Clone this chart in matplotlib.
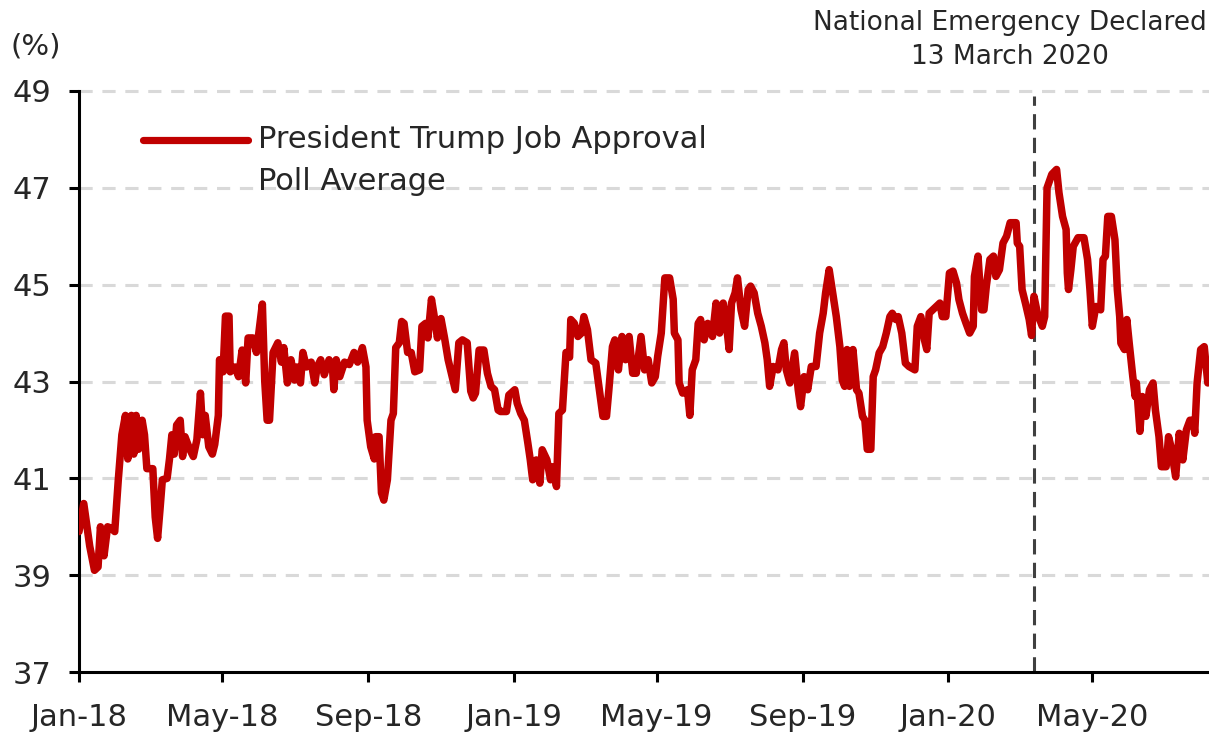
import matplotlib
matplotlib.use("Agg")
import matplotlib.pyplot as plt
import matplotlib.dates as mdates
from matplotlib.lines import Line2D
import pandas as pd

plt.rcParams['font.family'] = ['DejaVu Sans']
plt.rcParams['lines.scale_dashes'] = False

# Poll average, sampled as days since 1 Jan 2018
START = pd.Timestamp('2018-01-01')
day_offsets = [
    0, 4, 9, 13, 16, 18, 21, 24, 27, 30, 33, 36, 39, 41, 44, 46, 48, 50, 53, 55,
    57, 62, 64, 66, 68, 70, 74, 76, 78, 80, 82, 85, 87, 89, 93, 96, 99, 102, 104, 106,
    109, 112, 114, 117, 118, 121, 123, 126, 127, 131, 134, 137, 140, 142, 146, 149, 154, 156, 158, 160,
    163, 167, 170, 172, 175, 178, 181, 183, 186, 188, 191, 195, 198, 200, 203, 206, 210, 213, 214, 216,
    219, 223, 227, 231, 234, 238, 241, 242, 245, 248, 249, 252, 254, 256, 259, 262, 264, 266, 269, 271,
    273, 276, 279, 282, 286, 288, 291, 293, 296, 298, 301, 304, 307, 310, 314, 316, 319, 322, 326, 329,
    331, 333, 336, 340, 343, 346, 349, 352, 354, 359, 361, 366, 368, 371, 374, 377, 379, 381, 384, 387,
    389, 393, 396, 398, 401, 403, 406, 409, 412, 413, 416, 419, 422, 424, 427, 430, 434, 437, 440, 443,
    445, 448, 450, 453, 456, 459, 462, 465, 468, 472, 475, 478, 481, 484, 486, 489, 492, 496, 499, 500,
    503, 504, 507, 511, 513, 515, 518, 520, 522, 525, 528, 532, 535, 538, 541, 543, 546, 548, 551, 553,
    556, 559, 562, 564, 567, 570, 573, 576, 578, 580, 583, 587, 590, 592, 594, 597, 601, 604, 606, 609,
    612, 615, 619, 622, 625, 627, 630, 633, 636, 639, 641, 643, 645, 647, 650, 653, 655, 658, 660, 662,
    665, 667, 669, 672, 675, 678, 681, 683, 686, 688, 691, 694, 697, 702, 704, 707, 710, 712, 714, 717,
    720, 723, 725, 728, 731, 734, 737, 739, 742, 745, 748, 751, 752, 755, 758, 760, 762, 765, 768, 770,
    773, 776, 779, 782, 787, 788, 790, 792, 795, 798, 800, 802, 805, 809, 811, 813, 817, 821, 823, 826,
    829, 830, 831, 833, 835, 839, 844, 847, 849, 851, 854, 858, 860, 862, 864, 867, 870, 872, 874, 875,
    878, 880, 882, 885, 887, 888, 891, 893, 896, 899, 902, 904, 907, 909, 913, 915, 917, 921, 924, 927,
    930, 933, 936, 937, 939, 942, 945, 948,
]
approval = [
    39.90, 40.48, 39.60, 39.10, 39.17, 40.00, 39.40, 40.00, 39.97, 39.90, 40.97, 41.90, 42.30, 41.40, 42.30, 41.50, 42.30, 41.60, 42.20, 41.90,
    41.20, 41.20, 40.20, 39.76, 40.35, 40.97, 41.00, 41.40, 41.90, 41.50, 42.10, 42.20, 41.45, 41.86, 41.60, 41.45, 41.80, 42.76, 41.90, 42.30,
    41.65, 41.50, 41.70, 42.30, 43.45, 43.20, 44.35, 44.35, 43.20, 43.30, 43.10, 43.65, 42.97, 43.90, 43.90, 43.60, 44.60, 43.00, 42.20, 42.20,
    43.60, 43.80, 43.40, 43.70, 42.97, 43.45, 43.03, 43.30, 42.97, 43.60, 43.30, 43.40, 42.97, 43.30, 43.45, 43.14, 43.45, 43.24, 42.83, 43.45,
    43.10, 43.40, 43.35, 43.60, 43.40, 43.70, 43.30, 42.20, 41.65, 41.40, 41.86, 41.86, 40.70, 40.55, 40.97, 42.20, 42.34, 43.70, 43.80, 44.24,
    44.20, 43.60, 43.60, 43.20, 43.24, 44.14, 44.20, 43.90, 44.70, 44.40, 43.90, 44.30, 43.90, 43.45, 43.03, 42.83, 43.80, 43.86, 43.80, 42.80,
    42.66, 42.76, 43.65, 43.65, 43.17, 42.90, 42.83, 42.41, 42.38, 42.38, 42.72, 42.83, 42.55, 42.34, 42.20, 41.72, 41.38, 40.97, 41.38, 40.90,
    41.59, 41.38, 40.97, 41.24, 40.83, 42.34, 42.41, 43.60, 43.50, 44.28, 44.20, 43.93, 44.00, 44.34, 44.07, 43.45, 43.38, 42.83, 42.28, 42.28,
    42.83, 43.72, 43.86, 43.24, 43.93, 43.45, 43.93, 43.17, 43.17, 43.93, 43.24, 43.45, 42.97, 43.10, 43.52, 44.00, 45.14, 45.14, 44.70, 44.00,
    43.86, 42.97, 42.76, 42.83, 42.30, 43.24, 43.45, 44.20, 44.28, 43.86, 44.20, 43.93, 44.62, 44.00, 44.62, 44.34, 43.66, 44.62, 44.83, 45.14,
    44.48, 44.14, 44.90, 44.97, 44.83, 44.41, 44.14, 43.80, 43.45, 42.90, 43.31, 43.24, 43.66, 43.80, 43.24, 42.97, 43.59, 42.83, 42.48, 43.10,
    42.83, 43.31, 43.31, 44.00, 44.41, 44.83, 45.31, 44.83, 44.34, 43.72, 43.03, 42.90, 43.66, 42.90, 43.66, 42.83, 42.76, 42.28, 42.20, 41.60,
    41.60, 43.10, 43.24, 43.59, 43.72, 44.00, 44.34, 44.41, 44.28, 44.34, 44.00, 43.38, 43.31, 43.24, 44.14, 44.34, 43.86, 43.66, 44.41, 44.48,
    44.55, 44.62, 44.34, 44.34, 45.24, 45.28, 45.03, 44.69, 44.41, 44.20, 44.00, 44.14, 45.17, 45.59, 44.48, 44.48, 44.97, 45.52, 45.59, 45.17,
    45.31, 45.86, 46.00, 46.28, 46.28, 45.86, 45.79, 44.90, 44.60, 44.28, 43.95, 44.76, 44.40, 44.14, 44.34, 47.00, 47.28, 47.38, 46.90, 46.41,
    46.14, 45.24, 44.90, 45.31, 45.79, 45.97, 45.97, 45.52, 44.90, 44.14, 44.55, 44.48, 45.52, 45.59, 46.41, 46.41, 45.93, 44.90, 44.34, 43.79,
    43.66, 44.28, 43.79, 43.10, 42.69, 42.97, 41.97, 42.69, 42.28, 42.83, 42.97, 42.41, 41.86, 41.24, 41.24, 41.86, 41.66, 41.03, 41.93, 41.38,
    42.00, 42.20, 42.20, 41.93, 42.97, 43.66, 43.72, 42.97,
]
series_label = ['President Trump Job Approval', 'Poll Average']
emergency_date = pd.Timestamp('2020-03-13')
emergency_label = ['National Emergency Declared', '13 March 2020']
y_ticks = [37, 39, 41, 43, 45, 47, 49]

RED = '#C00000'
TEXT = '#262626'

dates = START + pd.to_timedelta(day_offsets, unit='D')

W, H = 1209, 732
fig = plt.figure(figsize=(W / 100, H / 100), dpi=100)
ax = fig.add_axes([79 / W, 60 / H, 1130 / W, 581 / H])

ax.set_ylim(37, 49)
ax.set_xlim(START, START + pd.Timedelta(days=949))

# dashed horizontal gridlines
for y in y_ticks[1:]:
    ax.axhline(y, color='#d9d9d9', lw=2.2, ls=(0, (9.5, 7)), zorder=0, clip_on=False)

# national emergency marker
ax.axvline(emergency_date, ymin=0, ymax=0.991, color='#404040', lw=2.2,
           ls=(0, (11, 6)), zorder=1)

ax.plot(dates, approval, color=RED, lw=5.4, solid_joinstyle='round',
        solid_capstyle='round', zorder=3)

for side in ('top', 'right'):
    ax.spines[side].set_visible(False)
for side in ('left', 'bottom'):
    ax.spines[side].set_linewidth(2.2)
    ax.spines[side].set_color('black')

ax.set_yticks(y_ticks)
ax.xaxis.set_major_locator(mdates.MonthLocator(bymonth=[1, 5, 9]))
ax.xaxis.set_major_formatter(mdates.DateFormatter('%b-%y'))
ax.tick_params(direction='out', length=7, width=2.2, labelsize=22,
               color='black', labelcolor=TEXT)
ax.tick_params(axis='x', pad=15)
ax.tick_params(axis='y', pad=13)

# legend drawn by hand so the key sits on the first text line
ax.add_line(Line2D([0.0566, 0.1496], [0.9157, 0.9157], transform=ax.transAxes,
                   color=RED, lw=5.2, solid_capstyle='round', clip_on=False))
ax.text(0.1584, 0.9157, series_label[0], transform=ax.transAxes, fontsize=22,
        color=TEXT, va='center', ha='left')
ax.text(0.1584, 0.8434, series_label[1], transform=ax.transAxes, fontsize=22,
        color=TEXT, va='center', ha='left')

fig.text(1010 / W, 1 - 23 / H, emergency_label[0], fontsize=19, color=TEXT,
         ha='center', va='center')
fig.text(1010 / W, 1 - 57 / H, emergency_label[1], fontsize=19, color=TEXT,
         ha='center', va='center')
fig.text(36 / W, 1 - 46 / H, '(%)', fontsize=21, color=TEXT, ha='center', va='center')

fig.savefig('out.png', dpi=100, facecolor='white')
